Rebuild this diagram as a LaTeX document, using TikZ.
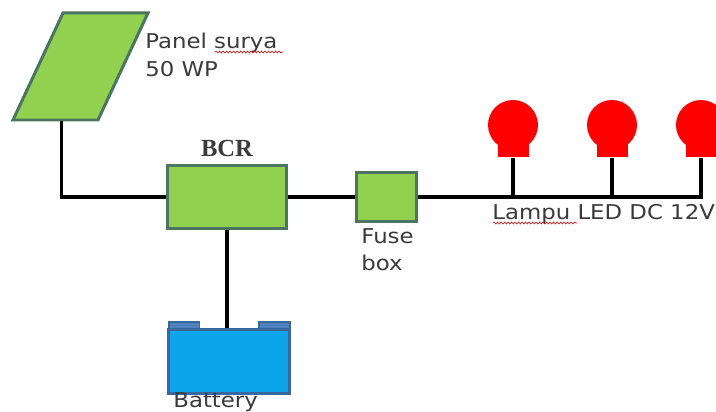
\documentclass[tikz,border=0pt]{standalone}
\usepackage{fontspec}
\usepackage{xcolor}
\usepackage{tikz}
\setmainfont[FakeStretch=1.12]{DejaVu Sans}
\newfontfamily\bcrfont{Liberation Serif}
\usetikzlibrary{decorations.pathmorphing}
\definecolor{boxgreen}{HTML}{92D050}
\definecolor{boxedge}{HTML}{4A7560}
\definecolor{cellblue}{HTML}{0BA5EC}
\definecolor{celledge}{HTML}{38689C}
\definecolor{capblue}{HTML}{4F81BD}
\definecolor{labelgrey}{HTML}{3A3A3A}
\tikzset{
  greenbox/.style={draw=boxedge,fill=boxgreen,line width=0.06cm,inner sep=0pt},
  wire/.style={black,line width=0.08cm},
  flatwire/.style={black,line width=0.068cm},
  lamphead/.style={circle,fill=red,minimum size=1cm,inner sep=0pt},
  lampbody/.style={fill=red,minimum width=0.62cm,minimum height=0.54cm,inner sep=0pt},
  batterycap/.style={draw=celledge,fill=capblue,line width=0.04cm,minimum width=0.62cm,minimum height=0.2cm,inner sep=0pt},
  label/.style={text=labelgrey,font=\fontsize{11.6}{13}\selectfont,inner sep=0pt,anchor=base west},
  squiggle/.style={red!80!black,line width=0.012cm,decorate,decoration={snake,amplitude=0.02cm,segment length=0.07cm}}
}
\begin{document}
\begin{tikzpicture}[x=0.02cm,y=-0.02cm]
    \clip (0,0) rectangle (716,412);
    \filldraw[draw=boxedge,fill=boxgreen,line width=0.06cm] (63,13) -- (148,13) -- (98,120) -- (13,120) -- cycle;
    \coordinate (panelfoot) at (61.5,121);
    \node[greenbox,minimum width=2.4cm,minimum height=1.28cm] (bcr) at (227,197) {};
    \node[greenbox,minimum width=1.2cm,minimum height=1cm] (fuse) at (386,197) {};
    \node[batterycap] (capleft) at (184,327) {};
    \node[batterycap] (capright) at (274,327) {};
    \node[draw=celledge,fill=cellblue,line width=0.06cm,minimum width=2.44cm,minimum height=1.3cm,inner sep=0pt] (battery) at (229,361.5) {};
    % lamps
    \node[lamphead] (heada) at (513,125) {};
    \node[lampbody] (bodya) at (513,144) {};
    \node[lamphead] (headb) at (612,125) {};
    \node[lampbody] (bodyb) at (612,144) {};
    \node[lamphead] (headc) at (701,125) {};
    \node[lampbody] (bodyc) at (701,144) {};
    % wiring
    \draw[flatwire] (panelfoot) |- (bcr.west);
    \draw[flatwire] (bcr.east) -- (fuse.west);
    \draw[wire] (bcr.south) -- (bcr.south |- battery.north);
    \draw[flatwire] (fuse.east) -| (bodyc.south);
    \draw[wire] (bodya.south) -- (bodya.south |- fuse.east);
    \draw[wire] (bodyb.south) -- (bodyb.south |- fuse.east);
    % labels
    \node[label] (panelname) at (145,49) {Panel surya};
    \node[label] (panelwatt) at (145,76) {50 WP};
    \node[font=\bcrfont\bfseries\fontsize{14}{16}\selectfont,text=labelgrey,inner sep=0pt] (bcrname) at (227,148) {BCR};
    \node[label] (fusename) at (361,243) {Fuse};
    \node[label] (fusebox) at (361,270) {box};
    \node[label] (lampname) at (492,219) {Lampu LED DC 12V};
    \node[label] (batteryname) at (173,407) {Battery};
    \draw[squiggle] (215,52) -- (283,52);
    \draw[squiggle] (493,223) -- (577,223);
\end{tikzpicture}
\end{document}
